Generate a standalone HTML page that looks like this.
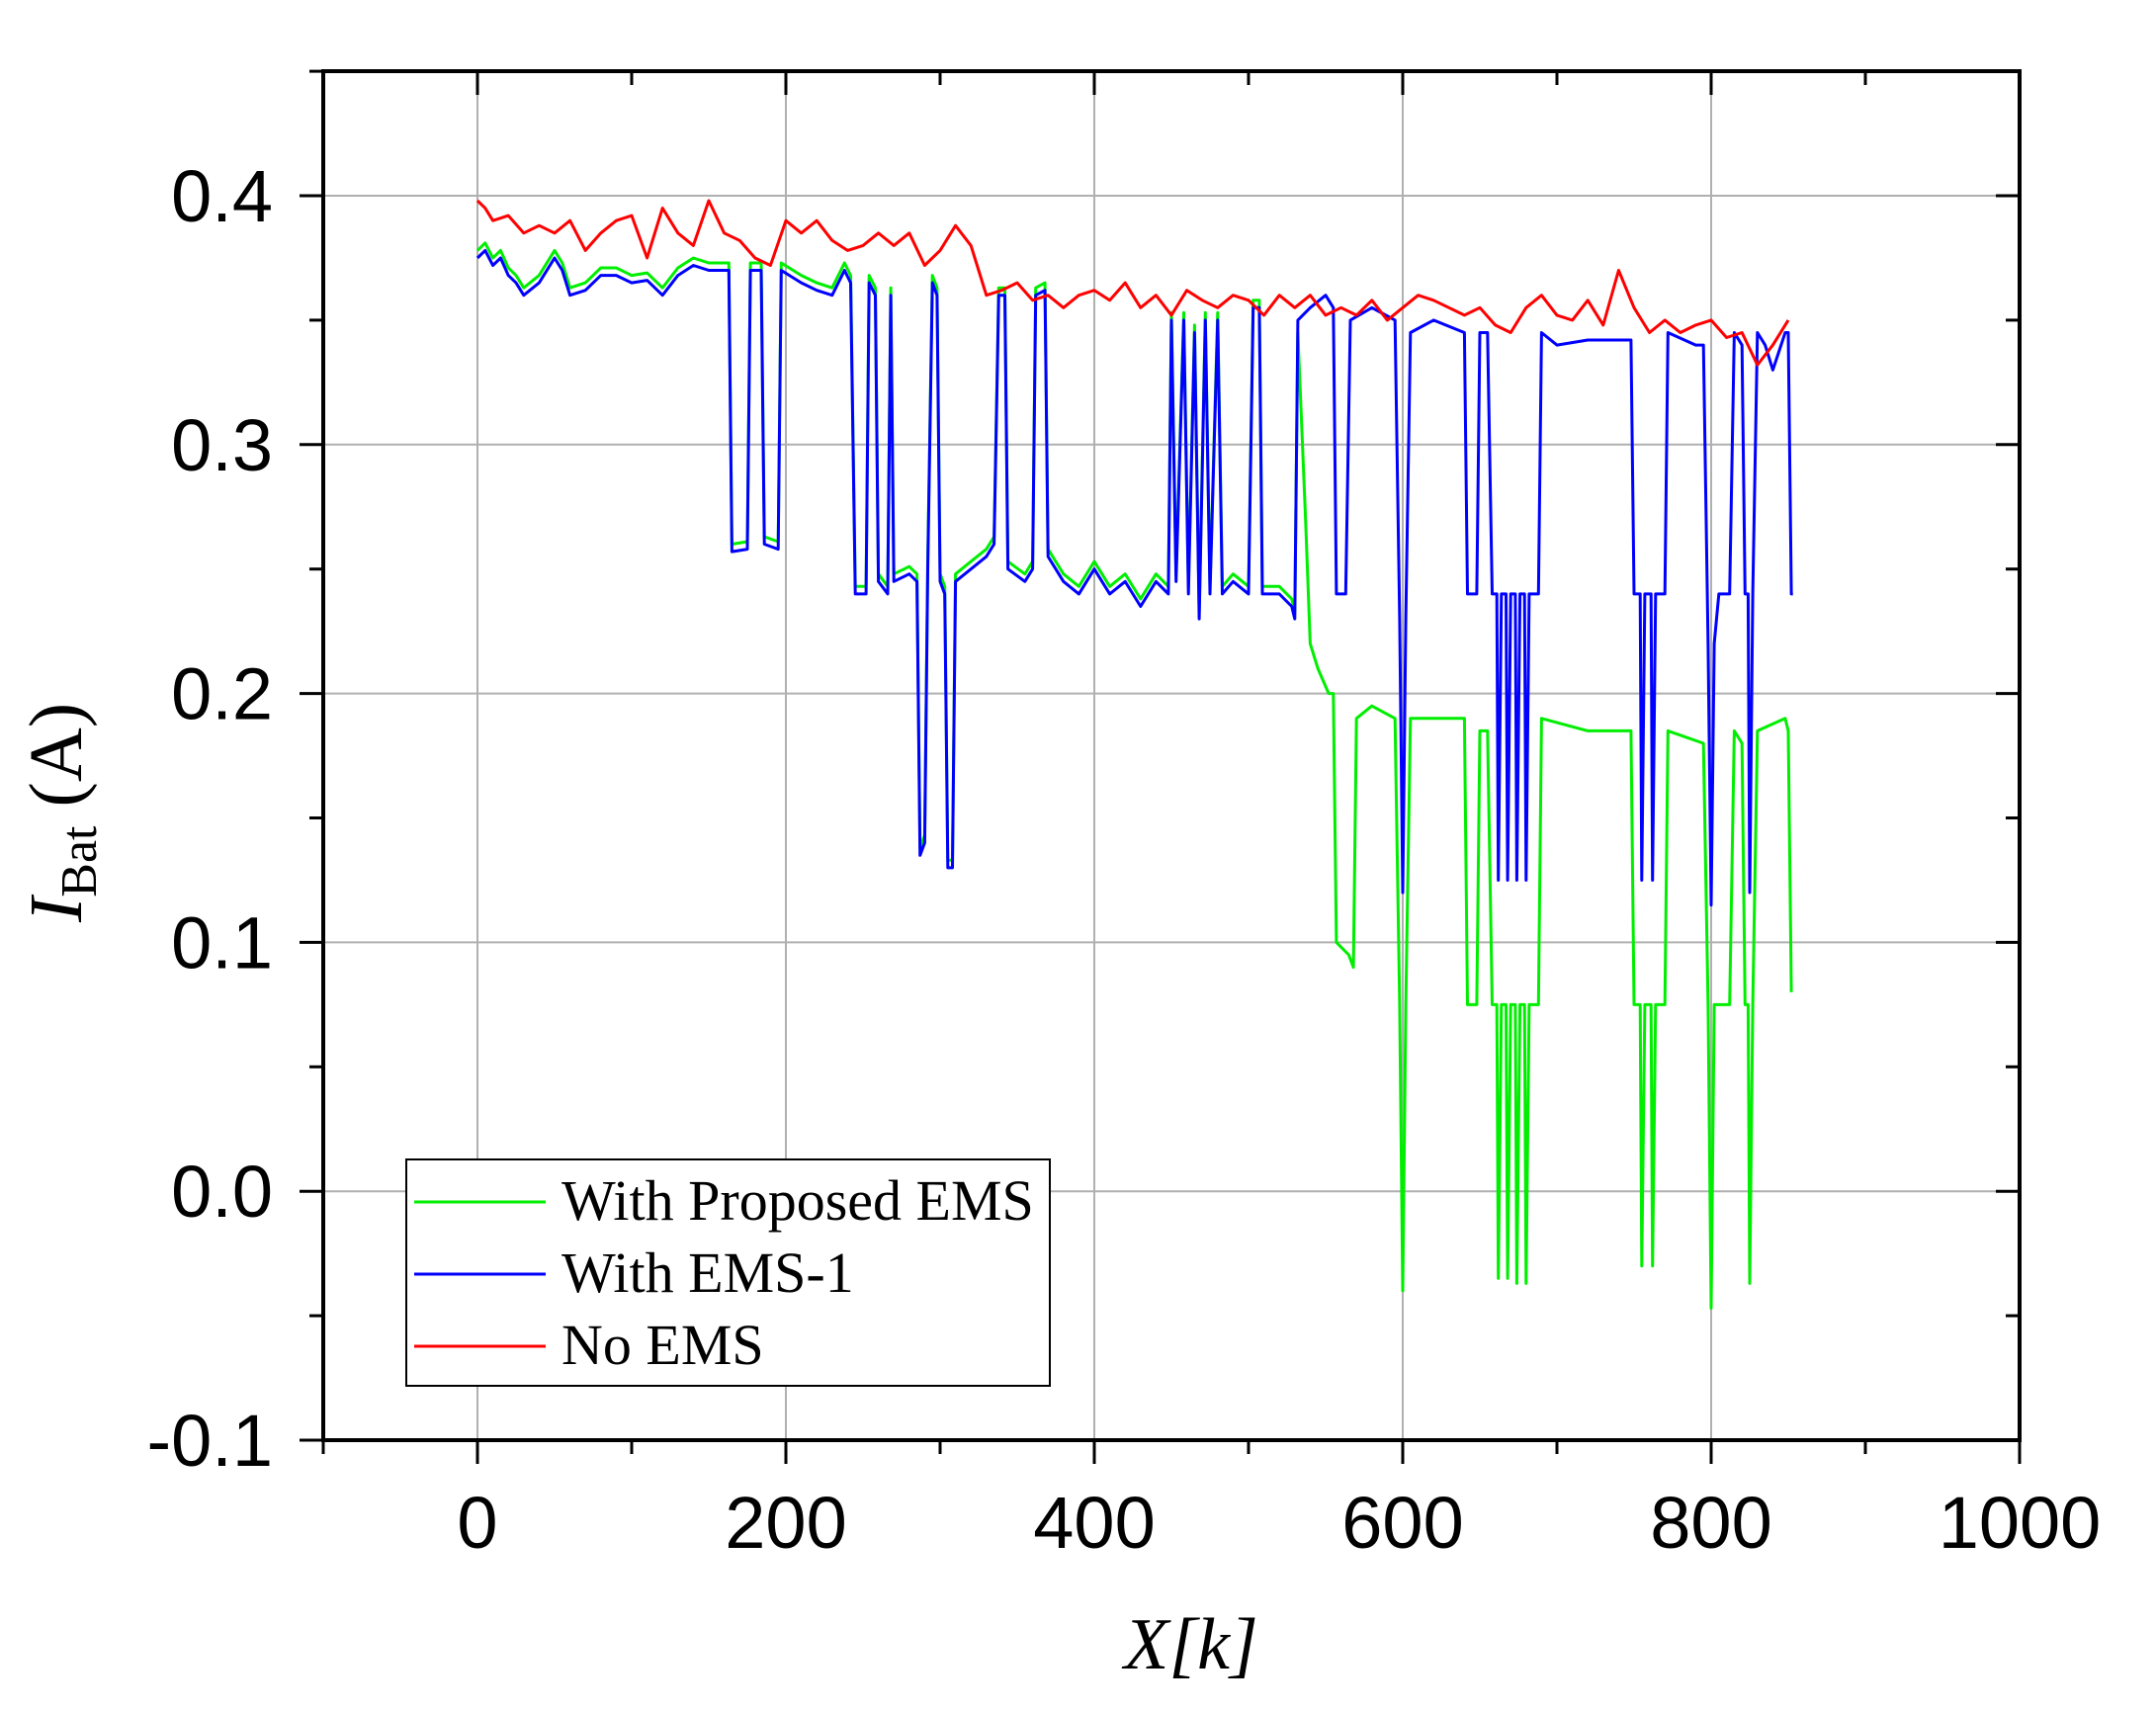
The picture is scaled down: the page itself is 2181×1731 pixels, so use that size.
<!DOCTYPE html>
<html><head><meta charset="utf-8"><style>
body{margin:0;background:#fff;}
svg{display:block;}
</style></head><body>
<svg id="chart" width="2181" height="1731" viewBox="0 0 2181 1731" xmlns="http://www.w3.org/2000/svg">
<rect width="2181" height="1731" fill="#fff"/>
<g id="grid"></g><g id="series"></g><g id="axes"></g>
<text x="1205" y="1688" text-anchor="middle" font-family="Liberation Serif, serif" font-style="italic" font-size="74">X[k]</text>
<text transform="translate(82,822) rotate(-90)" text-anchor="middle" font-family="Liberation Serif, serif" font-size="76"><tspan font-style="italic">I</tspan><tspan font-size="52" dy="15">Bat</tspan><tspan dy="-15"> (A)</tspan></text>
<g>
<rect x="411" y="1173" width="651" height="229" fill="#fff" stroke="#000" stroke-width="2"/>
<line x1="419" y1="1216" x2="552" y2="1216" stroke="#00ee00" stroke-width="3"/>
<text x="568" y="1234" font-family="Liberation Serif, serif" font-size="58">With Proposed EMS</text>
<line x1="419" y1="1289" x2="552" y2="1289" stroke="#0000ff" stroke-width="3"/>
<text x="568" y="1307" font-family="Liberation Serif, serif" font-size="58">With EMS-1</text>
<line x1="419" y1="1362" x2="552" y2="1362" stroke="#ff0000" stroke-width="3"/>
<text x="568" y="1380" font-family="Liberation Serif, serif" font-size="58">No EMS</text>
</g>
</svg>
<script>
const xTicks=[0,200,400,600,800,1000];
const xMinor=[-100,100,300,500,700,900];
const yTicks=[-0.1,0.0,0.1,0.2,0.3,0.4];
const yTickLabels=["-0.1","0.0","0.1","0.2","0.3","0.4"];
const yMinor=[-0.05,0.05,0.15,0.25,0.35,0.45];
const redX=[0,5,10,20,30,40,50,60,70,80,90,100,110,120,130,140,150,160,170,180,190,200,210,220,230,240,250,260,270,280,290,300,310,320,325,330,340,350,360,370,380,390,400,410,420,430,440,450,460,470,480,490,500,510,520,530,540,550,560,570,580,590,600,610,620,630,640,650,660,670,680,690,700,710,720,730,740,750,760,770,780,790,800,810,820,830,840,850];
const redY=[0.398,0.395,0.39,0.392,0.385,0.388,0.385,0.39,0.378,0.385,0.39,0.392,0.375,0.395,0.385,0.38,0.398,0.385,0.382,0.375,0.372,0.39,0.385,0.39,0.382,0.378,0.38,0.385,0.38,0.385,0.372,0.378,0.388,0.38,0.37,0.36,0.362,0.365,0.358,0.36,0.355,0.36,0.362,0.358,0.365,0.355,0.36,0.352,0.362,0.358,0.355,0.36,0.358,0.352,0.36,0.355,0.36,0.352,0.355,0.352,0.358,0.35,0.355,0.36,0.358,0.355,0.352,0.355,0.348,0.345,0.355,0.36,0.352,0.35,0.358,0.348,0.37,0.355,0.345,0.35,0.345,0.348,0.35,0.343,0.345,0.332,0.34,0.35];
const sharedX=[0,5,10,15,20,25,30,40,50,55,60,70,80,90,100,110,120,130,140,150,160,163,165,175,177,184,186,195,197,210,220,230,238,242,245,252,254,258,260,266,268,270,280,285,287,290,292,295,298,300,303,305,308,310,320,330,335,338,342,344,355,360,362,368,370,380,390,400,410,420,430,440,448,450,453,458,461,465,468,472,475,480,483,490,500,503,507,509,520,528,530];
const sharedY=[0.375,0.378,0.372,0.375,0.368,0.365,0.36,0.365,0.375,0.37,0.36,0.362,0.368,0.368,0.365,0.366,0.36,0.368,0.372,0.37,0.37,0.37,0.257,0.258,0.37,0.37,0.26,0.258,0.37,0.365,0.362,0.36,0.37,0.365,0.24,0.24,0.365,0.36,0.245,0.24,0.36,0.245,0.248,0.245,0.135,0.14,0.25,0.365,0.36,0.245,0.24,0.13,0.13,0.245,0.25,0.255,0.26,0.36,0.36,0.25,0.245,0.25,0.36,0.362,0.255,0.245,0.24,0.25,0.24,0.245,0.235,0.245,0.24,0.35,0.245,0.35,0.24,0.345,0.23,0.35,0.24,0.35,0.24,0.245,0.24,0.355,0.355,0.24,0.24,0.235,0.23];
const blueTailX=[532,540,550,555,557,563,566,580,595,598,600,602,605,620,640,642,648,650,655,658,661,662,664,667,668,670,673,674,676,679,680,682,688,690,700,720,748,750,754,755,757,761,762,764,770,772,790,795,798,800,802,805,812,815,820,822,824,825,827,830,835,840,848,850,852,853];
const blueTailY=[0.35,0.355,0.36,0.355,0.24,0.24,0.35,0.355,0.35,0.23,0.12,0.23,0.345,0.35,0.345,0.24,0.24,0.345,0.345,0.24,0.24,0.125,0.24,0.24,0.125,0.24,0.24,0.125,0.24,0.24,0.125,0.24,0.24,0.345,0.34,0.342,0.342,0.24,0.24,0.125,0.24,0.24,0.125,0.24,0.24,0.345,0.34,0.34,0.22,0.115,0.22,0.24,0.24,0.345,0.34,0.24,0.24,0.12,0.24,0.345,0.34,0.33,0.345,0.345,0.24,0.24];
const greenTailX=[532,537,540,545,552,555,557,565,568,570,580,595,598,600,602,605,640,642,648,650,655,658,661,662,664,667,668,670,673,674,676,679,680,682,688,690,720,748,750,754,755,757,761,762,764,770,772,795,798,800,802,812,815,820,822,824,825,827,830,848,850,852];
const greenTailY=[0.345,0.27,0.22,0.21,0.2,0.2,0.1,0.095,0.09,0.19,0.195,0.19,0.075,-0.04,0.075,0.19,0.19,0.075,0.075,0.185,0.185,0.075,0.075,-0.035,0.075,0.075,-0.035,0.075,0.075,-0.037,0.075,0.075,-0.037,0.075,0.075,0.19,0.185,0.185,0.075,0.075,-0.03,0.075,0.075,-0.03,0.075,0.075,0.185,0.18,0.075,-0.047,0.075,0.075,0.185,0.18,0.075,0.075,-0.037,0.075,0.185,0.19,0.185,0.08];

const L=327,R=2043,T=72,B=1457;
const X=v=>483+(v)*1.56;
const Y=v=>198+(0.4-v)*2518;
const NS='http://www.w3.org/2000/svg';
function mk(tag,attrs,parent){const e=document.createElementNS(NS,tag);for(const k in attrs)e.setAttribute(k,attrs[k]);parent.appendChild(e);return e;}
const grid=document.getElementById('grid'),axes=document.getElementById('axes'),ser=document.getElementById('series');
xTicks.forEach(v=>{if(v>=0&&v<1000){const l=mk('line',{x1:X(v),x2:X(v),y1:T,y2:B,stroke:'#b0b0b0','stroke-width':2},grid);

}});
yTicks.forEach(v=>{if(v>-0.1){const l=mk('line',{x1:L,x2:R,y1:Y(v),y2:Y(v),stroke:'#b0b0b0','stroke-width':2},grid);

}});
function path(xs,ys){return xs.map((x,i)=>(i?'L':'M')+X(x).toFixed(1)+','+Y(ys[i]).toFixed(1)).join('');}
const g=mk('path',{d:path(sharedX.concat(greenTailX),sharedY.map(v=>v+0.003).concat(greenTailY)),fill:'none',stroke:'#00ee00','stroke-width':3,'stroke-linejoin':'round'},ser);


const b=mk('path',{d:path(sharedX.concat(blueTailX),sharedY.concat(blueTailY)),fill:'none',stroke:'#0000ff','stroke-width':3,'stroke-linejoin':'round'},ser);


const r=mk('path',{d:path(redX,redY),fill:'none',stroke:'#ff0000','stroke-width':3,'stroke-linejoin':'round'},ser);


const frame=mk('rect',{x:L,y:T,width:R-L,height:B-T,fill:'none',stroke:'#000','stroke-width':4},axes);


xTicks.concat(xMinor).forEach(v=>{const len=xTicks.includes(v)?24:14;
mk('line',{x1:X(v),x2:X(v),y1:B,y2:B+len,stroke:'#000','stroke-width':3},axes);
mk('line',{x1:X(v),x2:X(v),y1:T,y2:T+len,stroke:'#000','stroke-width':3},axes);});
yTicks.concat(yMinor).forEach(v=>{const len=yTicks.includes(v)?24:14;
mk('line',{x1:L-len,x2:L,y1:Y(v),y2:Y(v),stroke:'#000','stroke-width':3},axes);
mk('line',{x1:R-len,x2:R,y1:Y(v),y2:Y(v),stroke:'#000','stroke-width':3},axes);});
xTicks.forEach(v=>{const t=mk('text',{x:X(v),y:1566,'text-anchor':'middle','font-family':'Liberation Sans, sans-serif','font-size':74},axes);t.textContent=String(v);

});
yTicks.forEach((v,i)=>{const t=mk('text',{x:276,y:Y(v)+26,'text-anchor':'end','font-family':'Liberation Sans, sans-serif','font-size':74},axes);t.textContent=yTickLabels[i];

});
</script>
</body></html>
